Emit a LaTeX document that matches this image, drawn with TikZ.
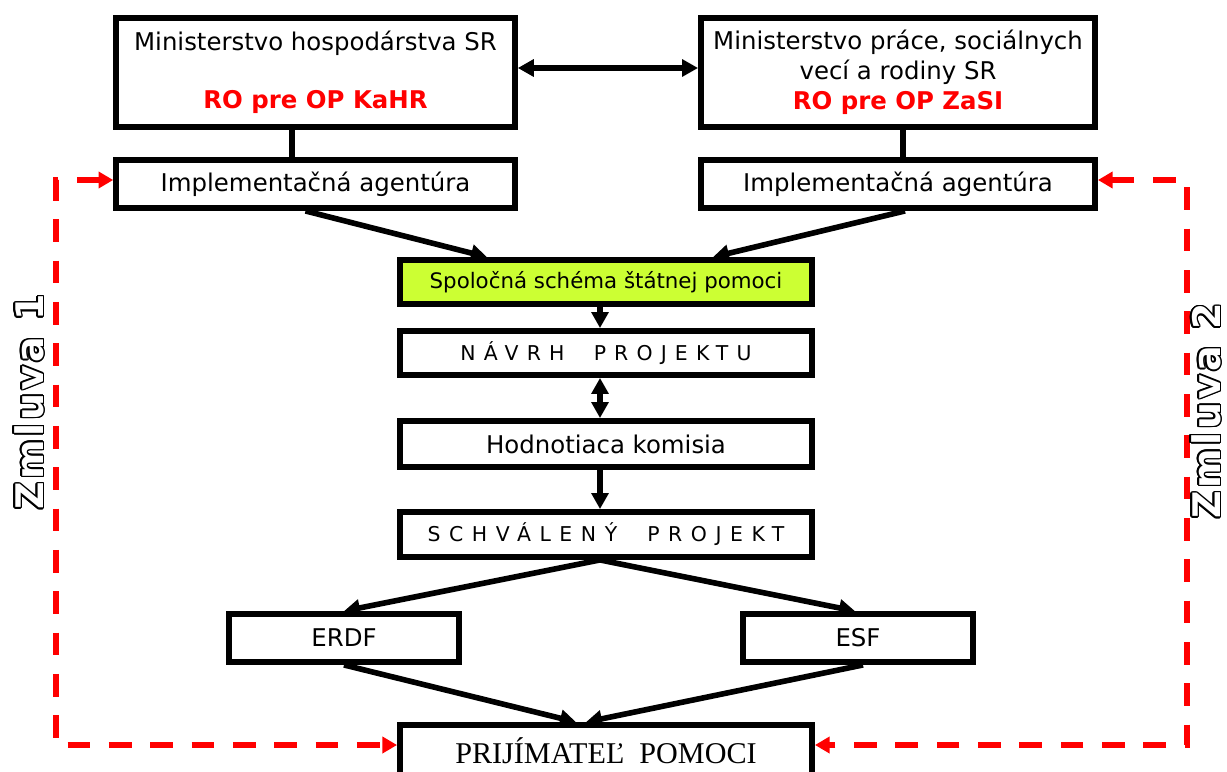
\documentclass[tikz,border=0pt]{standalone}
\usepackage{fontspec}
\setmainfont{DejaVu Sans}
\newfontfamily\timesf{Liberation Serif}
\newfontfamily\spacedf[LetterSpace=40]{DejaVu Sans}
\newfontfamily\spacedg[LetterSpace=42]{DejaVu Sans}
\newfontfamily\zmlf[LetterSpace=8]{DejaVu Sans Bold}
\usetikzlibrary{arrows.meta,calc}
\definecolor{lime}{RGB}{204,255,51}
\tikzset{
  box/.style={draw=black, line width=4.4pt, fill=white, inner sep=0pt, align=center, text=black},
  txt/.style={font=\fontsize{18.3}{22.5}\selectfont},
  arr/.style={line width=4.2pt, -{Triangle[length=12pt,width=12.5pt]}},
  darr/.style={line width=4.2pt, {Triangle[length=12pt,width=12.5pt]}-{Triangle[length=12pt,width=12.5pt]}},
  plain/.style={line width=4.2pt},
  reddash/.style={draw=red, line width=4.5pt, dash pattern=on 17pt off 14pt, {Triangle[length=11pt,width=12pt]}-{Triangle[length=11pt,width=12pt]}},
  zmltext/.style={rotate=90, font=\fontsize{28.5}{30}\zmlf, inner sep=0pt}
}
\begin{document}
\begin{tikzpicture}[x=0.75pt, y=-0.75pt]
\useasboundingbox (0,0) rectangle (1227,771);
\clip (0,0) rectangle (1227,771);

% top boxes
\node[box, txt, minimum width=299pt, minimum height=82pt] (mh) at (315.5,72.5)
  {Ministerstvo hospodárstva SR\\[21pt]{\color{red}\bfseries\fontsize{18.3}{20}\selectfont RO pre OP KaHR}};
\node[box, txt, minimum width=295.5pt, minimum height=82pt] (mp) at (898,72.5)
  {Ministerstvo práce, sociálnych\\vecí a rodiny SR\\{\color{red}\bfseries\fontsize{18.3}{20}\selectfont RO pre OP ZaSI}};

\node[box, txt, minimum width=299pt, minimum height=36pt] (ia1) at (315.5,184) {Implementačná agentúra};
\node[box, txt, minimum width=295.5pt, minimum height=36pt] (ia2) at (898,184) {Implementačná agentúra};

\node[box, fill=lime, font=\fontsize{16}{19}\selectfont, minimum width=309pt, minimum height=33pt] (ssp) at (606,282) {Spoločná schéma štátnej pomoci};
\node[box, font=\fontsize{15.3}{18}\spacedf, minimum width=309pt, minimum height=33pt] (nav) at (606,353) {NÁVRH\ \ PROJEKTU};
\node[box, txt, minimum width=309pt, minimum height=34.5pt] (hod) at (606,444) {Hodnotiaca komisia};
\node[box, font=\fontsize{15.3}{18}\spacedg, minimum width=309pt, minimum height=33.75pt] (sch) at (606,534.5) {SCHVÁLENÝ\ \ PROJEKT};

\node[box, txt, minimum width=172.5pt, minimum height=36pt] (erdf) at (344,638) {ERDF};
\node[box, txt, minimum width=172.5pt, minimum height=36pt] (esf) at (858,638) {ESF};

\node[box, font=\fontsize{22.6}{26}\timesf, minimum width=309pt, minimum height=39pt] (prij) at (606,751) {PRIJÍMATEĽ\ \ POMOCI};

% connectors
\draw[darr] (mh.east |- 0,68) -- (mp.west |- 0,68);
\draw[plain] (mh.south -| 292,0) -- (ia1.north -| 292,0);
\draw[plain] (mp.south -| 903,0) -- (ia2.north -| 903,0);

\draw[arr] ($(ia1.south)+(-10,0)$) -- ($(ssp.north)+(-119,0)$);
\draw[arr] ($(ia2.south)+(7,0)$) -- ($(ssp.north)+(107,0)$);
\draw[arr] ($(ssp.south)+(-6,0)$) -- ($(nav.north)+(-6,0)$);
\draw[darr] ($(nav.south)+(-6,0)$) -- ($(hod.north)+(-6,0)$);
\draw[arr] ($(hod.south)+(-6,0)$) -- ($(sch.north)+(-6,0)$);
\draw[arr] ($(sch.south)+(-6,0)$) -- (erdf.north);
\draw[arr] ($(sch.south)+(-6,0)$) -- ($(esf.north)+(-3,0)$);
\draw[arr] (erdf.south) -- ($(prij.north)+(-30,0)$);
\draw[arr] ($(esf.south)+(5,0)$) -- ($(prij.north)+(-20,0)$);

% red dashed contracts
\coordinate (l1) at (56,180);
\coordinate (l2) at (56,745);
\coordinate (r1) at (1187,180);
\coordinate (r2) at (1187,745);
\draw[reddash] ($(ia1.west)+(0,-4)$) -- (l1) -- (l2) -- ($(prij.west)+(0,-6)$);
\draw[reddash] ($(ia2.east)+(0,-4)$) -- (r1) -- (r2) -- ($(prij.east)+(0,-6)$);

% outlined labels
\coordinate (zc1) at (29,402);
\coordinate (zc2) at (1206,411);
\foreach \a in {0,22.5,...,337.5}{
  \node[zmltext, text=black] (zo1\a) at ($(zc1)+(\a:1.5)$) {Zmluva 1};
  \node[zmltext, text=black] (zo2\a) at ($(zc2)+(\a:1.5)$) {Zmluva 2};
}
\node[zmltext, text=white] (z1) at (zc1) {Zmluva 1};
\node[zmltext, text=white] (z2) at (zc2) {Zmluva 2};
\end{tikzpicture}
\end{document}
